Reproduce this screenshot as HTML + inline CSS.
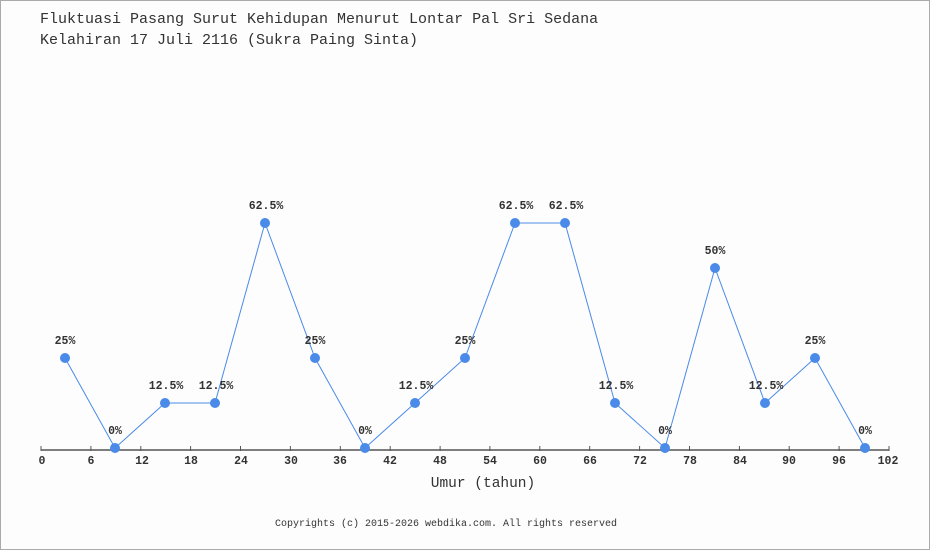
<!DOCTYPE html>
<html><head><meta charset="utf-8"><style>
html,body{margin:0;padding:0;background:#fdfdfd;}
svg{display:block;}
text{font-family:"Liberation Mono","DejaVu Sans Mono",monospace;fill:#333;}
</style></head><body>
<svg width="930" height="550" xmlns="http://www.w3.org/2000/svg">
<rect x="0.5" y="0.5" width="929" height="549" fill="#fdfdfd" stroke="#aaa"/>
<text x="40" y="23" font-size="15">Fluktuasi Pasang Surut Kehidupan Menurut Lontar Pal Sri Sedana</text>
<text x="40" y="44" font-size="15">Kelahiran 17 Juli 2116 (Sukra Paing Sinta)</text>
<line x1="41" y1="450" x2="889" y2="450" stroke="#555" stroke-width="1.5"/>
<g stroke="#555" stroke-width="1">
<line x1="41" y1="446" x2="41" y2="451"/><line x1="90.9" y1="446" x2="90.9" y2="451"/><line x1="140.8" y1="446" x2="140.8" y2="451"/><line x1="190.6" y1="446" x2="190.6" y2="451"/><line x1="240.5" y1="446" x2="240.5" y2="451"/><line x1="290.4" y1="446" x2="290.4" y2="451"/><line x1="340.3" y1="446" x2="340.3" y2="451"/><line x1="390.2" y1="446" x2="390.2" y2="451"/><line x1="440.1" y1="446" x2="440.1" y2="451"/><line x1="489.9" y1="446" x2="489.9" y2="451"/><line x1="539.8" y1="446" x2="539.8" y2="451"/><line x1="589.7" y1="446" x2="589.7" y2="451"/><line x1="639.6" y1="446" x2="639.6" y2="451"/><line x1="689.5" y1="446" x2="689.5" y2="451"/><line x1="739.4" y1="446" x2="739.4" y2="451"/><line x1="789.2" y1="446" x2="789.2" y2="451"/><line x1="839.1" y1="446" x2="839.1" y2="451"/><line x1="889" y1="446" x2="889" y2="451"/>
</g>
<g font-size="11.5" font-weight="bold" text-anchor="middle">
<text x="42" y="464">0</text><text x="90.9" y="464">6</text><text x="142" y="464">12</text><text x="191" y="464">18</text><text x="241" y="464">24</text><text x="291" y="464">30</text><text x="340" y="464">36</text><text x="390" y="464">42</text><text x="440" y="464">48</text><text x="490" y="464">54</text><text x="540" y="464">60</text><text x="590" y="464">66</text><text x="640" y="464">72</text><text x="690" y="464">78</text><text x="740" y="464">84</text><text x="789" y="464">90</text><text x="839" y="464">96</text><text x="888" y="464">102</text>
</g>
<text x="483" y="487" font-size="14.5" text-anchor="middle">Umur (tahun)</text>
<text x="446" y="526" font-size="10" text-anchor="middle">Copyrights (c) 2015-2026 webdika.com. All rights reserved</text>
<polyline fill="none" stroke="#4a8ae8" stroke-width="1" points="65,358 115,448 165,403 215,403 265,223 315,358 365,448 415,403 465,358 515,223 565,223 615,403 665,448 715,268 765,403 815,358 865,448"/>
<g fill="#4a8ae8">
<circle cx="65" cy="358" r="5"/><circle cx="115" cy="448" r="5"/><circle cx="165" cy="403" r="5"/><circle cx="215" cy="403" r="5"/><circle cx="265" cy="223" r="5"/><circle cx="315" cy="358" r="5"/><circle cx="365" cy="448" r="5"/><circle cx="415" cy="403" r="5"/><circle cx="465" cy="358" r="5"/><circle cx="515" cy="223" r="5"/><circle cx="565" cy="223" r="5"/><circle cx="615" cy="403" r="5"/><circle cx="665" cy="448" r="5"/><circle cx="715" cy="268" r="5"/><circle cx="765" cy="403" r="5"/><circle cx="815" cy="358" r="5"/><circle cx="865" cy="448" r="5"/>
</g>
<g font-size="11.5" font-weight="bold" text-anchor="middle">
<text x="65" y="344">25%</text><text x="115" y="434">0%</text><text x="166" y="389">12.5%</text><text x="216" y="389">12.5%</text><text x="266" y="209">62.5%</text><text x="315" y="344">25%</text><text x="365" y="434">0%</text><text x="416" y="389">12.5%</text><text x="465" y="344">25%</text><text x="516" y="209">62.5%</text><text x="566" y="209">62.5%</text><text x="616" y="389">12.5%</text><text x="665" y="434">0%</text><text x="715" y="254">50%</text><text x="766" y="389">12.5%</text><text x="815" y="344">25%</text><text x="865" y="434">0%</text>
</g>
</svg>
</body></html>
